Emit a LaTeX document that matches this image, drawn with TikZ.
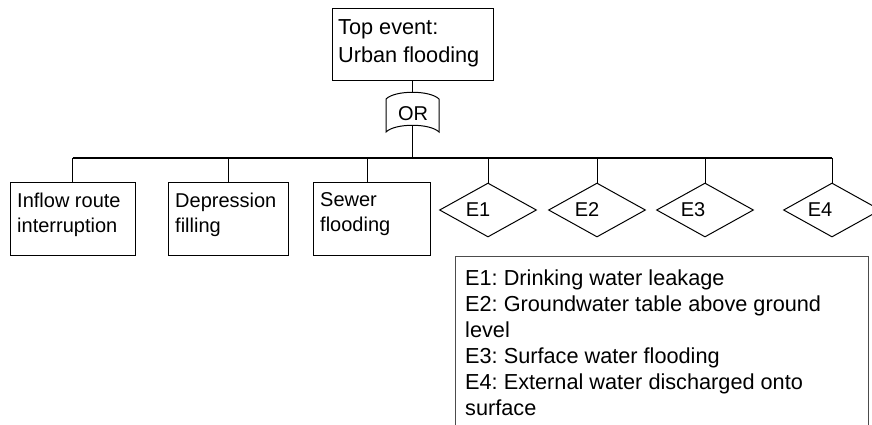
\documentclass[tikz,border=0pt]{standalone}
\usepackage{fontspec}
\setmainfont{Liberation Sans}
\usetikzlibrary{shapes.geometric}
\frenchspacing
\begin{document}
\begin{tikzpicture}[x=1pt,y=-1pt,
  ln/.style={draw=black,line width=1pt},
  evbox/.style={draw=black,line width=1pt,rectangle,inner sep=0pt},
  evdia/.style={draw=black,line width=1pt,diamond,aspect=1.8,inner sep=0pt,minimum width=97pt,minimum height=54pt},
  sm/.style={font=\fontsize{20}{25}\selectfont,inner sep=0pt,align=left},
  lg/.style={font=\fontsize{21.7}{26}\selectfont,inner sep=0pt,align=left}]
\useasboundingbox (0,0) rectangle (872,424);
\clip (0,0) rectangle (872,424);
% top event
\node[evbox,minimum width=161pt,minimum height=72pt] (top) at (412.5,44) {};
\node[lg,anchor=north west,font=\fontsize{21.7}{28}\selectfont] (toptxt) at (338,19.4) {Top event:\\Urban flooding};
% OR gate
\coordinate (gtop) at (412.5,92);
\coordinate (gbot) at (412.5,125);
\draw[ln] (386,99) .. controls (395,90) and (430,90) .. (439,99) -- (439,132)
  .. controls (430,123) and (395,123) .. (386,132) -- cycle;
\node[sm] (or) at (413,114) {OR};
\draw[ln] (top.south) -- (gtop);
\coordinate (bus) at (412.5,158);
\draw[line width=1.6pt] (gbot) -- (bus);
\coordinate (busL) at (72.5,158);
\coordinate (busR) at (832,158);
\draw[line width=1.4pt] (busL) -- (busR);
% basic events (boxes)
\node[evbox,minimum width=125pt,minimum height=73pt] (b1) at (72.5,218.5) {};
\node[evbox,minimum width=120pt,minimum height=73pt] (b2) at (228,218.5) {};
\node[evbox,minimum width=117pt,minimum height=73pt] (b3) at (371.5,218.5) {};
\node[sm,anchor=north west] (t1) at (17,192.6) {Inflow route\\interruption};
\node[sm,anchor=north west] (t2) at (175,192.6) {Depression\\filling};
\node[sm,anchor=north west] (t3) at (320,192.6) {Sewer\\flooding};
\draw[ln] (b1.north |- bus) -- (b1.north);
\draw[ln] (b2.north |- bus) -- (b2.north);
\coordinate (d3) at (367,158);
\draw[ln] (d3) -- (d3 |- b3.north);
% undeveloped events (diamonds)
\node[evdia] (e1) at (488,210) {};
\node[evdia] (e2) at (597,210) {};
\node[evdia] (e3) at (705,210) {};
\node[evdia] (e4) at (832,210) {};
\node[sm] (l1) at (478,210) {E1};
\node[sm] (l2) at (587,210) {E2};
\node[sm] (l3) at (693,210) {E3};
\node[sm] (l4) at (820,210) {E4};
\draw[ln] (e1.north |- bus) -- (e1.north);
\draw[ln] (e2.north |- bus) -- (e2.north);
\draw[ln] (e3.north |- bus) -- (e3.north);
\draw[ln] (e4.north |- bus) -- (e4.north);
% legend
\node[draw=gray!60!black,line width=1pt,rectangle,inner sep=0pt,minimum width=413pt,minimum height=190pt,anchor=north west] (leg) at (455,256) {};
\node[lg,anchor=north west] (legtxt) at (465,269.4) {E1: Drinking water leakage\\E2: Groundwater table above ground\\level\\E3: Surface water flooding\\E4: External water discharged onto\\surface};
\end{tikzpicture}
\end{document}
